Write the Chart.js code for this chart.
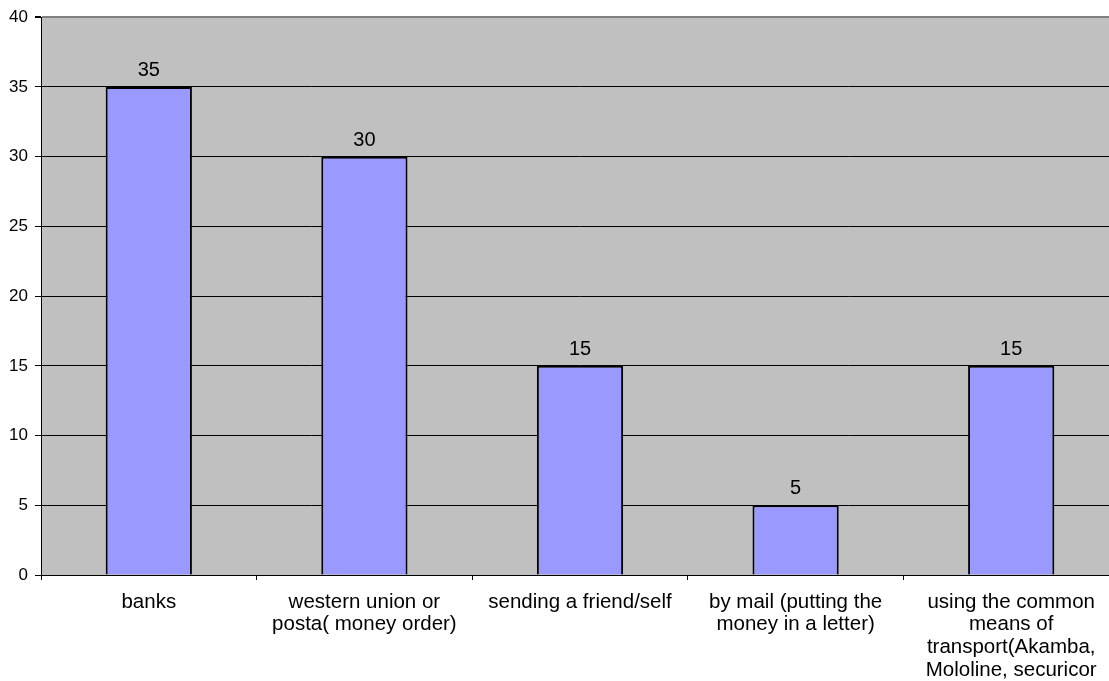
<!DOCTYPE html>
<html>
<head>
<meta charset="utf-8">
<script src="https://cdn.jsdelivr.net/npm/chart.js@4/dist/chart.umd.min.js"></script>
<style>
  html, body { margin: 0; padding: 0; background: #fff; overflow: hidden; }
  #wrap { position: relative; width: 1120px; height: 681px; }
</style>
</head>
<body>
<div id="wrap"><canvas id="chart"></canvas></div>
<script>
// ways of sending money home, % of respondents
const categories = [
  "banks",
  ["western union or", "posta( money order)"],
  "sending a friend/self",
  ["by mail (putting the", "money in a letter)"],
  ["using the common", "means of", "transport(Akamba,", "Mololine, securicor"],
];
const values = [35, 30, 15, 5, 15];
const yTicks = [0, 5, 10, 15, 20, 25, 30, 35, 40];

const FONT = "'Liberation Sans', Arial, sans-serif";

// grey plot area behind the bars
const plotBackground = {
  id: "plotBackground",
  beforeDraw: (chart) => {
    const { ctx, chartArea } = chart;
    ctx.save();
    ctx.fillStyle = "#c0c0c0";
    ctx.fillRect(chartArea.left, chartArea.top, chartArea.right - chartArea.left, chartArea.bottom - chartArea.top);
    ctx.restore();
  },
};

// numbers written above each bar
const barValues = {
  id: "barValues",
  afterDatasetsDraw: (chart) => {
    const ctx = chart.ctx;
    const meta = chart.getDatasetMeta(0);
    ctx.save();
    ctx.font = `20px ${FONT}`;
    ctx.fillStyle = "#000";
    ctx.textAlign = "center";
    ctx.textBaseline = "alphabetic";
    meta.data.forEach((bar, i) => {
      ctx.fillText(String(values[i]), bar.x, bar.y - 11);
    });
    ctx.restore();
  },
};

new Chart(document.getElementById("chart"), {
  type: "bar",
  data: {
    labels: categories,
    datasets: [
      {
        data: values,
        backgroundColor: "#9999ff",
        borderColor: "#000",
        borderWidth: 2,
        borderSkipped: "bottom",
        categoryPercentage: 1,
        barPercentage: 0.4,
      },
    ],
  },
  options: {
    responsive: true,
    maintainAspectRatio: false,
    animation: false,
    layout: { padding: { top: 15, right: 1, left: 0, bottom: 0 } },
    plugins: {
      legend: { display: false },
      tooltip: { enabled: false },
    },
    scales: {
      x: {
        offset: true,
        grid: {
          display: true,
          offset: true,
          drawOnChartArea: false,
          drawTicks: true,
          tickLength: 5,
          color: "#000",
        },
        border: { display: true, color: "#000", width: 1 },
        ticks: {
          color: "#000",
          padding: 11,
          maxRotation: 0,
          autoSkip: false,
          font: { family: FONT, size: 20.5, lineHeight: 1.1 },
        },
        afterFit: (scale) => {
          scale.height = 106;
        },
      },
      y: {
        min: 0,
        max: 40,
        afterBuildTicks: (scale) => {
          scale.ticks = yTicks.map((v) => ({ value: v }));
        },
        grid: {
          color: (c) => (c.tick && c.tick.value === 40 ? "#808080" : "#000"),
          lineWidth: (c) => (c.tick && c.tick.value === 40 ? 2 : 1),
          drawTicks: true,
          tickLength: 6,
          tickColor: "#000",
        },
        border: { display: true, color: "#000", width: 1 },
        ticks: {
          color: "#000",
          padding: 7,
          font: { family: FONT, size: 17 },
        },
        afterFit: (scale) => {
          scale.width = 41;
        },
      },
    },
  },
  plugins: [plotBackground, barValues],
});
</script>
</body>
</html>
